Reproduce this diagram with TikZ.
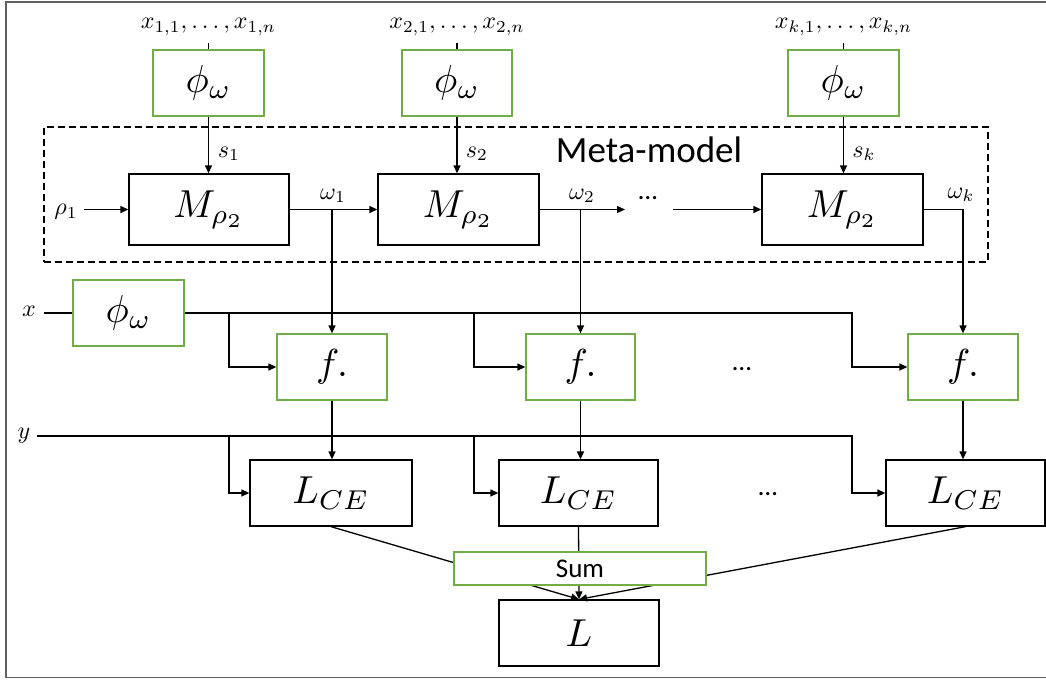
\documentclass[tikz,border=0pt]{standalone}
\usepackage{fontspec}
\usepackage{graphicx}
\setsansfont{Carlito}
\usetikzlibrary{arrows.meta}
\definecolor{boxgreen}{HTML}{70AD47}
\definecolor{framegray}{HTML}{606060}
\newcommand\boxmath[1]{\scalebox{3.9}{$#1$}}
\newcommand\labmath[1]{\scalebox{2.4}{$#1$}}
\begin{document}
\begin{tikzpicture}[x=1pt,y=-1pt,
  gbox/.style={draw=boxgreen, line width=1.3pt, fill=white, inner sep=0pt},
  bbox/.style={draw=black, line width=1.3pt, fill=white, inner sep=0pt},
  lab/.style={inner sep=1pt},
  dots/.style={font=\sffamily\fontsize{27}{30}\selectfont, inner sep=0pt, anchor=base},
  conn/.style={line width=1.3pt},
  arr/.style={line width=1.3pt, -{Triangle[length=8pt,width=7pt]}},
  metabox/.style={draw=black, line width=1.5pt, dash pattern=on 7pt off 4pt, inner sep=0pt}]
\useasboundingbox (0,0) rectangle (1046,680);
\draw[framegray, line width=1.5pt] (1046,2) -- (6,2) -- (6,677.5) -- (1046,677.5);

% meta-model region
\node[metabox, minimum width=944pt, minimum height=135pt] (meta) at (516,194.5) {};
\node[font=\sffamily\fontsize{37}{40}\selectfont, inner sep=0pt] (metalabel) at (649,150) {Meta-model};

% top inputs
\node[lab] (xa) at (208.5,27) {\labmath{x_{1,1},\ldots,x_{1,n}}};
\node[lab] (xb) at (457,27) {\labmath{x_{2,1},\ldots,x_{2,n}}};
\node[lab] (xc) at (843.5,27) {\labmath{x_{k,1},\ldots,x_{k,n}}};

\node[gbox, minimum width=111pt, minimum height=66pt] (phiA) at (208.5,83) {\boxmath{\phi_\omega}};
\node[gbox, minimum width=110pt, minimum height=66pt] (phiB) at (457,83) {\boxmath{\phi_\omega}};
\node[gbox, minimum width=111pt, minimum height=66pt] (phiC) at (843.5,83) {\boxmath{\phi_\omega}};

\path (phiA.north) ++(0,-6) coordinate (tA);
\path (phiB.north) ++(0,-6) coordinate (tB);
\path (phiC.north) ++(0,-6) coordinate (tC);
\draw[conn] (tA) -- (phiA.north);
\draw[conn] (tB) -- (phiB.north);
\draw[conn] (tC) -- (phiC.north);

% meta model boxes
\node[bbox, minimum width=160pt, minimum height=71pt] (MA) at (209,209.5) {\boxmath{M_{\rho_2}}};
\node[bbox, minimum width=161pt, minimum height=71pt] (MB) at (458.5,209.5) {\boxmath{M_{\rho_2}}};
\node[bbox, minimum width=161pt, minimum height=71pt] (MC) at (842.5,209.5) {\boxmath{M_{\rho_2}}};

\draw[arr] (phiA.south) -- (phiA.south |- MA.north);
\draw[arr] (phiB.south) -- (phiB.south |- MB.north);
\draw[arr] (phiC.south) -- (phiC.south |- MC.north);

\node[lab] (sA) at (229,154) {\labmath{s_1}};
\node[lab] (sB) at (477,154) {\labmath{s_2}};
\node[lab] (sC) at (864,154) {\labmath{s_k}};

\node[lab] (rho) at (66,212) {\labmath{\rho_1}};
\coordinate (rhoout) at (84,209.5);
\draw[arr] (rhoout) -- (MA.west);

\node[lab] (wA) at (333,196) {\labmath{\omega_1}};
\node[lab] (wB) at (582,196) {\labmath{\omega_2}};
\node[lab] (wC) at (961,195) {\labmath{\omega_k}};
\node[dots] (wdots) at (648,199) {…};
\coordinate (w2end) at (625,209.5);
\coordinate (w3start) at (673,209.5);

% f boxes
\node[gbox, minimum width=110pt, minimum height=66pt] (fA) at (332,367) {\boxmath{f.}};
\node[gbox, minimum width=109pt, minimum height=66pt] (fB) at (580.5,367) {\boxmath{f.}};
\node[gbox, minimum width=110pt, minimum height=66pt] (fC) at (963,367) {\boxmath{f.}};
\node[dots] (fdots) at (742,370) {…};

\draw[arr] (MA.east) -- (MB.west);
\draw[arr] (MA.east -| fA.north) -- (fA.north);
\draw[arr] (MB.east) -- (w2end);
\draw[arr] (w3start) -- (MC.west);
\draw[arr] (MB.east -| fB.north) -- (fB.north);
\draw[arr] (MC.east) -| (fC.north);

% x row
\node[lab] (xl) at (29,311) {\labmath{x}};
\node[gbox, minimum width=111pt, minimum height=66pt] (phiX) at (128.5,313) {\boxmath{\phi_\omega}};
\coordinate (xlout) at (44,313);
\coordinate (xr) at (852,313);
\coordinate (xa1) at (229,313);
\coordinate (xb1) at (474,313);
\draw[conn] (xlout) -- (phiX.west);
\draw[arr] (phiX.east) -- (xr) |- (fC.west);
\draw[arr] (xa1) |- (fA.west);
\draw[arr] (xb1) |- (fB.west);

% L_CE boxes
\node[bbox, minimum width=162pt, minimum height=66pt] (LA) at (331,493) {\boxmath{L_{CE}}};
\node[bbox, minimum width=159pt, minimum height=66pt] (LB) at (578.5,493) {\boxmath{L_{CE}}};
\node[bbox, minimum width=159pt, minimum height=66pt] (LC) at (965.5,493) {\boxmath{L_{CE}}};
\node[dots] (Ldots) at (768,495) {…};

% y row
\node[lab] (yl) at (24,436) {\labmath{y}};
\coordinate (ylout) at (37,436);
\coordinate (yr) at (852,436);
\coordinate (ya1) at (229,436);
\coordinate (yb1) at (474,436);
\draw[arr] (ylout) -- (yr) |- (LC.west);
\draw[arr] (ya1) |- (LA.west);
\draw[arr] (yb1) |- (LB.west);

\draw[arr] (fA.south) -- (fA.south |- LA.north);
\draw[arr] (fB.south) -- (fB.south |- LB.north);
\draw[arr] (fC.south) -- (fC.south |- LC.north);

% loss
\node[bbox, minimum width=160pt, minimum height=66pt] (L) at (579,633) {\boxmath{L}};
\draw[arr] (LA.south) -- (L.north);
\draw[arr] (LB.south) -- (L.north);
\draw[arr] (LC.south) -- (L.north);
\node[draw=boxgreen, line width=1.3pt, fill=white, inner sep=0pt, minimum width=252pt, minimum height=33pt, font=\sffamily\fontsize{27}{30}\selectfont] (sum) at (580,568.5) {Sum};
\end{tikzpicture}
\end{document}
